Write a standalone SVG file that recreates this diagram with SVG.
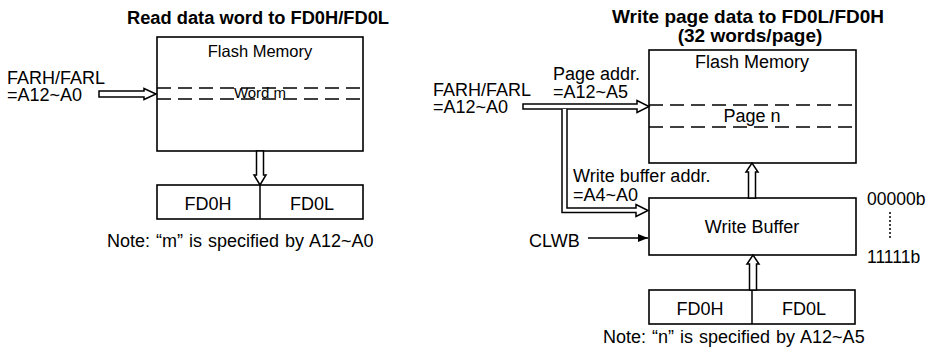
<svg xmlns="http://www.w3.org/2000/svg" width="930" height="358" viewBox="0 0 930 358">
<style>
text{font-family:"Liberation Sans",Arial,sans-serif;font-size:18px;fill:#000}
.t{font-weight:bold;text-anchor:middle}
.c{text-anchor:middle}
.box{fill:#fff;stroke:#000;stroke-width:1.6}
.dash{fill:none;stroke:#000;stroke-width:1.5;stroke-dasharray:14 7}
.ha{fill:#fff;stroke:#000;stroke-width:1.5;stroke-linejoin:miter}
.ln{fill:none;stroke:#000;stroke-width:1.5}
</style>
<defs>
<marker id="ah" viewBox="0 0 10 10" refX="10" refY="5" markerWidth="10" markerHeight="10" markerUnits="userSpaceOnUse" orient="auto">
<path d="M0,1 L10,5 L0,9 Z" fill="#000"/>
</marker>
</defs>

<text class="t" x="258" y="24" style="font-size:18.3px">Read data word to FD0H/FD0L</text>
<text class="t" x="748" y="23" style="font-size:19px">Write page data to FD0L/FD0H</text>
<text class="t" x="750" y="42" style="font-size:19px">(32 words/page)</text>

<g id="flash-left">
<rect class="box" x="157" y="37" width="206" height="114"/>
<text class="c" x="260" y="57" style="font-size:16.5px">Flash Memory</text>
<text class="c" x="260" y="98" style="font-size:15px">Word m</text>
<line class="dash" x1="157" y1="88" x2="363" y2="88"/>
<line class="dash" x1="157" y1="99" x2="363" y2="99"/>
</g>

<g id="fd0-left">
<rect class="box" x="157" y="185" width="206" height="34"/>
<line class="ln" x1="260" y1="185" x2="260" y2="219"/>
<text class="c" x="208" y="210">FD0H</text>
<text class="c" x="312" y="210">FD0L</text>
</g>

<g id="addr-left">
<text x="7" y="84">FARH/FARL</text>
<text x="7" y="101">=A12~A0</text>
</g>

<text x="107" y="247" style="word-spacing:1px">Note: “m” is specified by A12~A0</text>

<g id="flash-right">
<rect class="box" x="649" y="50" width="207" height="113"/>
<text class="c" x="752" y="68">Flash Memory</text>
<line class="dash" x1="649" y1="105" x2="856" y2="105"/>
<line class="dash" x1="649" y1="127" x2="856" y2="127"/>
<text class="c" x="752" y="122">Page n</text>
</g>

<g id="wbuf">
<rect class="box" x="649" y="198" width="207" height="57"/>
<text class="c" x="752" y="233">Write Buffer</text>
</g>

<g id="fd0-right">
<rect class="box" x="649" y="290" width="206" height="34"/>
<line class="ln" x1="752" y1="290" x2="752" y2="324"/>
<text class="c" x="700" y="315">FD0H</text>
<text class="c" x="804" y="315">FD0L</text>
</g>

<g id="addr-right">
<text x="433" y="96">FARH/FARL</text>
<text x="433" y="113">=A12~A0</text>
</g>
<text x="553" y="80">Page addr.</text>
<text x="553" y="98">=A12~A5</text>
<text x="573" y="182">Write buffer addr.</text>
<text x="573" y="201">=A4~A0</text>
<text x="529" y="247">CLWB</text>
<text x="867" y="205" style="font-size:17.5px">00000b</text>
<text x="867" y="263" style="font-size:17.5px">11111b</text>
<line x1="890" y1="212" x2="890" y2="240" stroke="#000" stroke-width="1.5" stroke-dasharray="2 2"/>

<text x="603" y="343" style="word-spacing:1px">Note: “n” is specified by A12~A5</text>

<g id="connectors">
<polygon class="ha" points="99,91 144,91 144,88.5 156,94 144,99.5 144,97 99,97"/>
<polygon class="ha" points="256.5,151 263.5,151 263.5,175 266,175 260,185 254,175 256.5,175"/>
<polygon class="ha" points="523,104 637,104 637,100.5 649,106.5 637,112.5 637,109 523,109"/>
<path class="ha" d="M562,109 L562,212.5 L636,212.5 L636,216.5 L648,210.5 L636,204.5 L636,208 L567,208 L567,109"/>
<polygon class="ha" points="748.5,198 755.5,198 755.5,172 758,172 752,163 746,172 748.5,172"/>
<polygon class="ha" points="749.5,290 756.5,290 756.5,264 759,264 753,255 747,264 749.5,264"/>
<line class="ln" x1="588" y1="238" x2="648" y2="238" marker-end="url(#ah)"/>
</g>
</svg>
